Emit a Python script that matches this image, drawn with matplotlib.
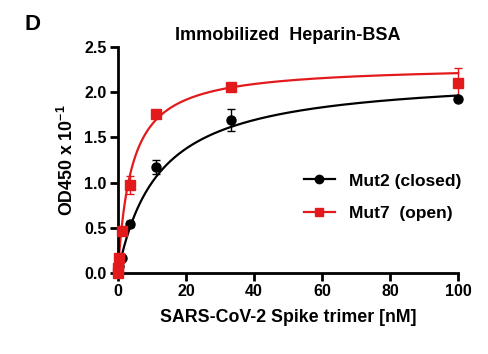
import numpy as np
import matplotlib
matplotlib.use("Agg")
import matplotlib.pyplot as plt
from matplotlib.lines import Line2D

plt.rcParams['font.family'] = ['Liberation Sans', 'DejaVu Sans']
plt.rcParams['font.weight'] = 'bold'
plt.rcParams['axes.unicode_minus'] = False
plt.rcParams['mathtext.fontset'] = 'custom'
plt.rcParams['mathtext.bf'] = 'Liberation Sans:bold'
plt.rcParams['mathtext.rm'] = 'Liberation Sans:bold'

conc = [0, 0.137, 0.41, 1.23, 3.7, 11.1, 33.3, 100]
mut2 = [0.0, 0.03, 0.08, 0.17, 0.54, 1.17, 1.69, 1.92]
mut2_err = [0, 0, 0, 0.02, 0.03, 0.08, 0.12, 0.02]
mut7 = [0.0, 0.05, 0.17, 0.46, 0.97, 1.76, 2.06, 2.10]
mut7_err = [0, 0, 0, 0.03, 0.10, 0.03, 0.03, 0.17]
fit_mut2 = (2.20, 12.0)  # Bmax, Kd
fit_mut7 = (2.30, 4.0)
labels = ['Mut2 (closed)', 'Mut7  (open)']
red = '#e31a1c'

fig = plt.figure(figsize=(4.89, 3.54), dpi=100)
ax = fig.add_axes([0.241, 0.229, 0.696, 0.638])

xx = np.linspace(0, 100, 500)
for (bm, kd), c in [(fit_mut2, 'black'), (fit_mut7, red)]:
    ax.plot(xx, bm * xx / (kd + xx), color=c, lw=1.6, clip_on=False)

ax.errorbar(conc, mut2, yerr=mut2_err, fmt='o', color='black', ms=6.5, capsize=3,
            elinewidth=1, clip_on=False, zorder=3)
ax.errorbar(conc, mut7, yerr=mut7_err, fmt='s', color=red, ms=6.5, capsize=3,
            elinewidth=1, clip_on=False, zorder=3)

h1 = Line2D([], [], color='black', marker='o', ms=6, lw=1.6)
h2 = Line2D([], [], color=red, marker='s', ms=6, lw=1.6)
ax.legend([h1, h2], labels, frameon=False,
          loc='upper left', bbox_to_anchor=(0.5, 0.51), fontsize=12.5,
          handlelength=1.8, handletextpad=0.8, labelspacing=1.0)

ax.set_xlim(0, 100)
ax.set_ylim(0, 2.5)
ax.set_xticks([0, 20, 40, 60, 80, 100])
ax.set_yticks([0.0, 0.5, 1.0, 1.5, 2.0, 2.5])
ax.set_yticklabels(['0.0', '0.5', '1.0', '1.5', '2.0', '2.5'])
for s in ['top', 'right']:
    ax.spines[s].set_visible(False)
for s in ['left', 'bottom']:
    ax.spines[s].set_linewidth(2)
ax.tick_params(width=2, length=5.5, labelsize=11.5, pad=2.5)
for lab in ax.get_xticklabels() + ax.get_yticklabels():
    lab.set_fontweight('bold')

ax.set_xlabel('SARS-CoV-2 Spike trimer [nM]', fontsize=12.8, fontweight='bold', labelpad=7)
ax.set_ylabel('OD450 x 10$^{\\mathbf{-1}}$', fontsize=12.8, fontweight='bold', labelpad=5)
ax.set_title('Immobilized  Heparin-BSA', fontsize=13, fontweight='bold', pad=5)
fig.text(0.05, 0.915, 'D', fontsize=16, fontweight='bold')

fig.savefig('out.png', dpi=100)
